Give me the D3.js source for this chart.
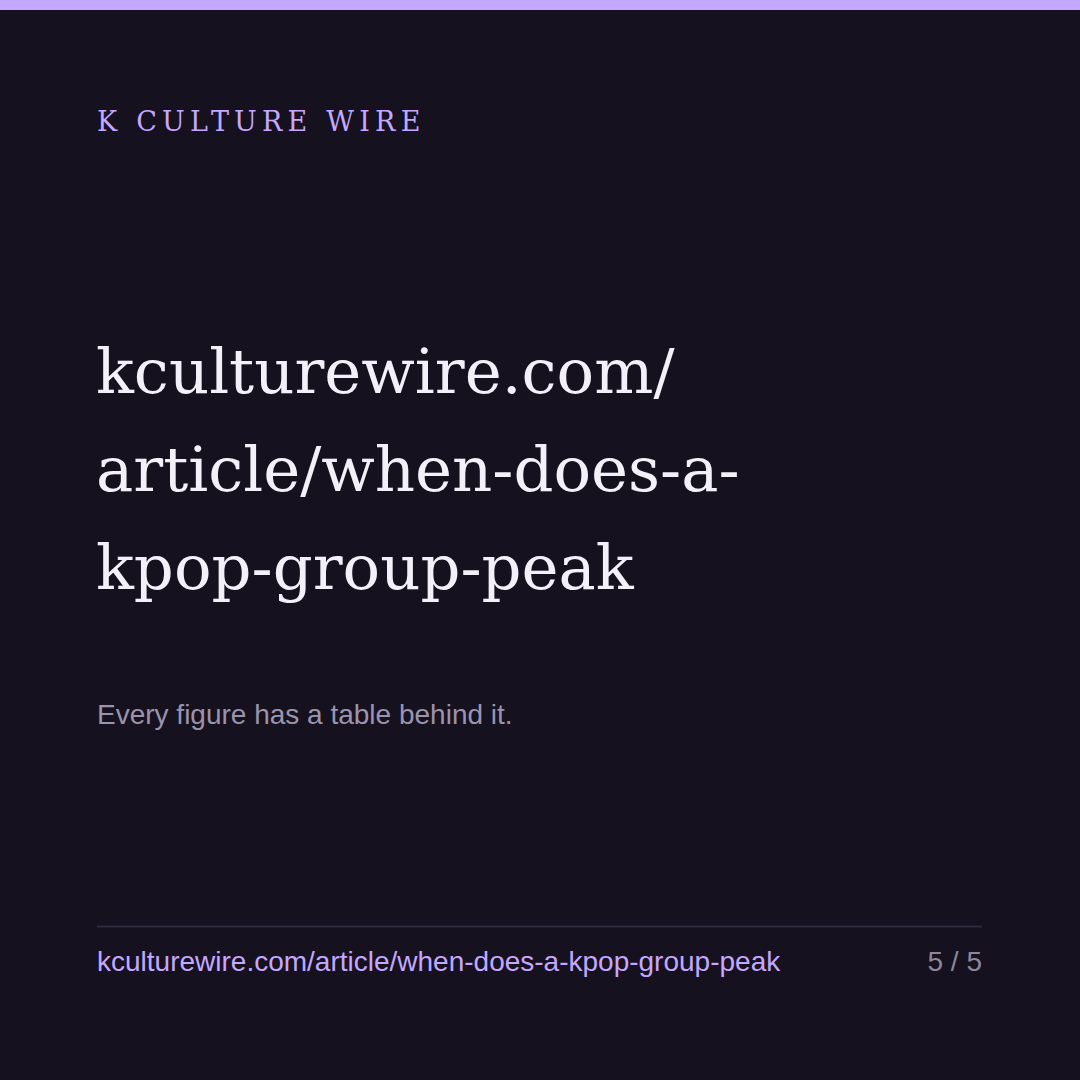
<!DOCTYPE html>
<html>
<head>
<meta charset="utf-8">
<script src="https://cdn.jsdelivr.net/npm/d3@7"></script>
<style>
  html, body { margin: 0; padding: 0; background: #15111f; }
</style>
</head>
<body>
<div class="card"></div>
<script>
const brand = ["K CULTURE WIRE"];
const titleLines = ["kculturewire.com/", "article/when-does-a-", "kpop-group-peak"];
const subtitle = ["Every figure has a table behind it."];
const footerUrl = ["kculturewire.com/article/when-does-a-kpop-group-peak"];
const pages = [5, 5];

const dimensions = {
  width: 1080,
  height: 1080,
  marginLeft: 97,
  marginRight: 98
}

const svg = d3.select(".card")
    .append("svg")
    .attr("width", dimensions.width)
    .attr("height", dimensions.height)
    .style("display", "block");

svg.append("rect")
    .attr("width", dimensions.width)
    .attr("height", dimensions.height)
    .attr("fill", "#15111f");

// accent strip on top
svg.append("rect")
    .attr("width", dimensions.width)
    .attr("height", 10)
    .attr("fill", "#c4a8ff");

svg.selectAll(".brand")
    .data(brand)
    .enter()
    .append("text")
    .attr("class", "brand")
    .attr("x", dimensions.marginLeft)
    .attr("y", 131)
    .attr("font-family", "'DejaVu Serif', serif")
    .attr("font-size", 27)
    .attr("letter-spacing", 5.2)
    .attr("fill", "#c4a8ff")
    .text(d => d);

// title lines stacked on a point scale
const yTitle = d3.scalePoint()
    .domain(d3.range(titleLines.length))
    .range([393, 589]);

svg.selectAll(".title")
    .data(titleLines)
    .enter()
    .append("text")
    .attr("class", "title")
    .attr("x", dimensions.marginLeft - 1)
    .attr("y", (d, i) => yTitle(i))
    .attr("font-family", "'DejaVu Serif', serif")
    .attr("font-size", 62.5)
    .attr("fill", "#f3f0fa")
    .text(d => d);

svg.selectAll(".subtitle")
    .data(subtitle)
    .enter()
    .append("text")
    .attr("class", "subtitle")
    .attr("x", dimensions.marginLeft)
    .attr("y", 724)
    .attr("font-family", "'Liberation Sans', Arial, sans-serif")
    .attr("font-size", 28)
    .attr("fill", "#9b94ad")
    .text(d => d);

svg.append("line")
    .attr("x1", dimensions.marginLeft)
    .attr("x2", dimensions.width - dimensions.marginRight)
    .attr("y1", 926.5)
    .attr("y2", 926.5)
    .attr("stroke", "#2f2a3d")
    .attr("stroke-width", 2);

svg.selectAll(".footer")
    .data(footerUrl)
    .enter()
    .append("text")
    .attr("class", "footer")
    .attr("x", dimensions.marginLeft)
    .attr("y", 971)
    .attr("font-family", "'Liberation Sans', Arial, sans-serif")
    .attr("font-size", 28)
    .attr("fill", "#c4a8ff")
    .text(d => d);

svg.append("text")
    .attr("x", dimensions.width - dimensions.marginRight)
    .attr("y", 971)
    .attr("text-anchor", "end")
    .attr("font-family", "'Liberation Sans', Arial, sans-serif")
    .attr("font-size", 28)
    .attr("fill", "#8d879b")
    .text(pages.join(" / "));
</script>
</body>
</html>
